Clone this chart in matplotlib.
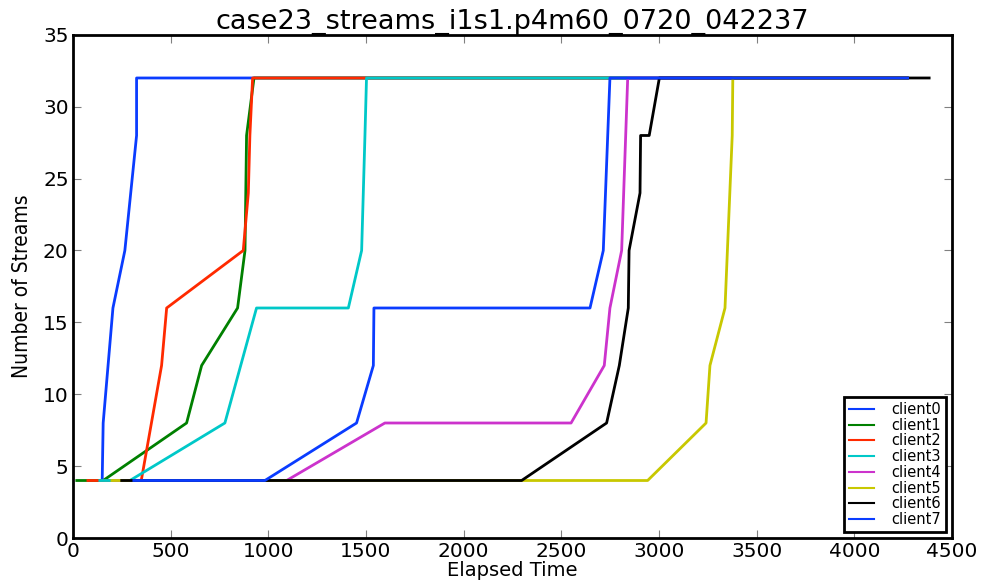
import numpy as np
import matplotlib.pyplot as plt

# data
names = ['client0', 'client1', 'client2', 'client3',
         'client4', 'client5', 'client6', 'client7']
colors = ['#0a3cff', 'g', '#ff2a00', '#00c8c8', '#cc33cc', '#c8c800', 'k', '#0a3cff']

t0 = [150, 155, 205, 266, 326, 326, 4270]
s0 = [4, 8, 16, 20, 28, 32, 32]

t1 = [20, 155, 582, 659, 843, 881, 889, 927, 4270]
s1 = [4, 4, 8, 12, 16, 20, 28, 32, 32]

t2 = [77, 350, 454, 480, 872, 898, 906, 920, 4270]
s2 = [4, 4, 12, 16, 20, 24, 28, 32, 32]

t3 = [138, 292, 778, 940, 1410, 1478, 1495, 1503, 4270]
s3 = [4, 4, 8, 16, 16, 20, 28, 32, 32]

t4 = [210, 1094, 1597, 2550, 2720, 2749, 2809, 2840, 4270]
s4 = [4, 4, 8, 8, 12, 16, 20, 32, 32]

t5 = [200, 2942, 3241, 3261, 3338, 3375, 3378, 4270]
s5 = [4, 4, 8, 12, 16, 28, 32, 32]

t6 = [250, 2297, 2732, 2797, 2843, 2847, 2903, 2906, 2950, 3002, 4383]
s6 = [4, 4, 8, 12, 16, 20, 24, 28, 28, 32, 32]

t7 = [312, 983, 1452, 1538, 1541, 2647, 2715, 2749, 4273]
s7 = [4, 4, 8, 12, 16, 16, 20, 32, 32]

times = [t0, t1, t2, t3, t4, t5, t6, t7]
streams = [s0, s1, s2, s3, s4, s5, s6, s7]

title = 'case23_streams_i1s1.p4m60_0720_042237'

fig = plt.figure(figsize=(9.85, 5.81), dpi=100)
ax = fig.add_axes([0.074, 0.074, 0.8925, 0.866])

for t, s, c, n in zip(times, streams, colors, names):
    ax.plot(t, s, color=c, linewidth=2, label=n)

ax.set_xlim(0, 4500)
ax.set_ylim(0, 35)
ax.set_xticks(np.arange(0, 4501, 500))
ax.set_yticks(np.arange(0, 36, 5))
ax.tick_params(direction='in', top=True, right=True, length=6,
               labelsize=14.5, width=0.8, color='0.5', pad=3)
for sp in ax.spines.values():
    sp.set_linewidth(2)

ax.set_title(title, fontsize=19.5, pad=4)
ax.set_xlabel('Elapsed Time', fontsize=14, labelpad=0)
ax.set_ylabel('Number of Streams', fontsize=15, fontstretch='condensed',
              labelpad=8)

leg = ax.legend(loc='lower right', fontsize=10.5, fancybox=False,
                framealpha=1, borderaxespad=0.4, handlelength=1.7,
                handletextpad=1.2, labelspacing=0.05, borderpad=0.35)
leg.get_frame().set_edgecolor('k')
leg.get_frame().set_linewidth(2)
for ln in leg.get_lines():
    ln.set_linewidth(1.5)

fig.savefig('out.png', dpi=100)
